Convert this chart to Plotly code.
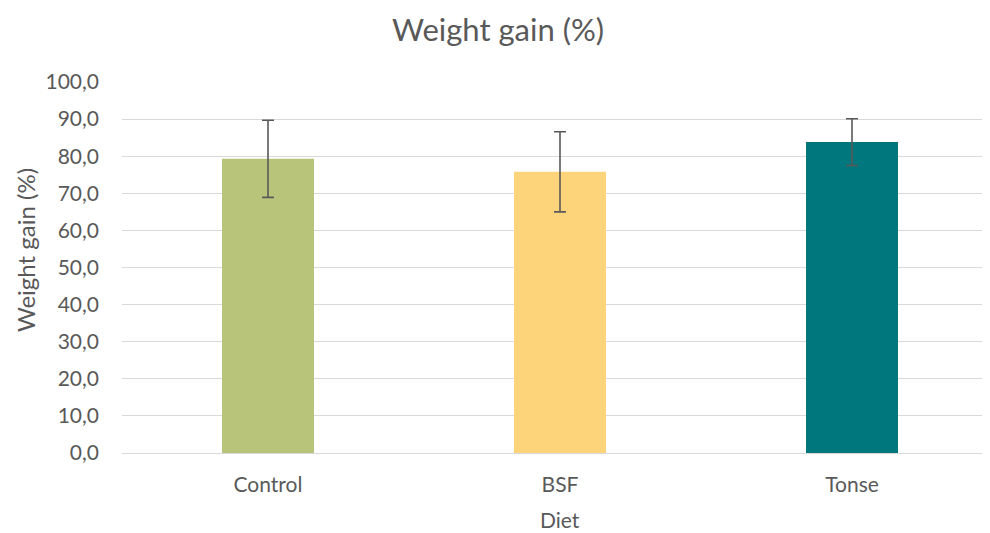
import plotly.graph_objects as go

categories = ["Control", "BSF", "Tonse"]
weight_gain = [79.3, 75.8, 83.8]
errors = [10.4, 10.8, 6.3]
bar_colors = ["#B7C47A", "#FDD47A", "#00767D"]
y_ticks = [0, 10, 20, 30, 40, 50, 60, 70, 80, 90, 100]

FONT = "Lato"
TXT = "#595959"

fig = go.Figure()
fig.add_trace(go.Bar(
    x=[0, 1, 2],
    y=weight_gain,
    width=0.315,
    marker=dict(color=bar_colors, line=dict(width=0)),
    error_y=dict(type="data", array=errors, visible=True,
                 color="#595959", thickness=1.6, width=6),
    showlegend=False,
))

fig.update_layout(
    width=990, height=533,
    margin=dict(l=114, r=0, t=74, b=88),
    paper_bgcolor="white", plot_bgcolor="white",
    separators=",.",
    font=dict(family=FONT, color=TXT, size=16),
    title=dict(text="Weight gain (%)", x=0.495, xanchor="center",
               y=0.959, yanchor="middle",
               font=dict(family=FONT, size=31, color=TXT)),
    xaxis=dict(
        range=[-0.5, 2.5],
        tickmode="array", tickvals=[0, 1, 2], ticktext=categories,
        showgrid=False, zeroline=False, showline=False,
        ticklabelstandoff=17,
        tickfont=dict(size=21, color=TXT),
    ),
    yaxis=dict(
        range=[0, 100],
        tickmode="array", tickvals=y_ticks, tickformat=".1f",
        showgrid=True, gridcolor="#D9D9D9", gridwidth=1,
        zeroline=True, zerolinecolor="#D9D9D9", zerolinewidth=1,
        showline=False,
        ticklabelstandoff=22,
        tickfont=dict(size=21, color=TXT),
    ),
    annotations=[
        dict(text="Diet", xref="paper", yref="paper", x=0.5, y=-0.178,
             xanchor="center", yanchor="middle", showarrow=False,
             font=dict(size=21, color=TXT, family=FONT)),
        dict(text="Weight gain (%)", xref="paper", yref="paper", x=0, y=0.547,
             xshift=-97, xanchor="center", yanchor="middle", textangle=-90,
             showarrow=False, font=dict(size=24, color=TXT, family=FONT)),
    ],
)

fig.write_html("out.html")
